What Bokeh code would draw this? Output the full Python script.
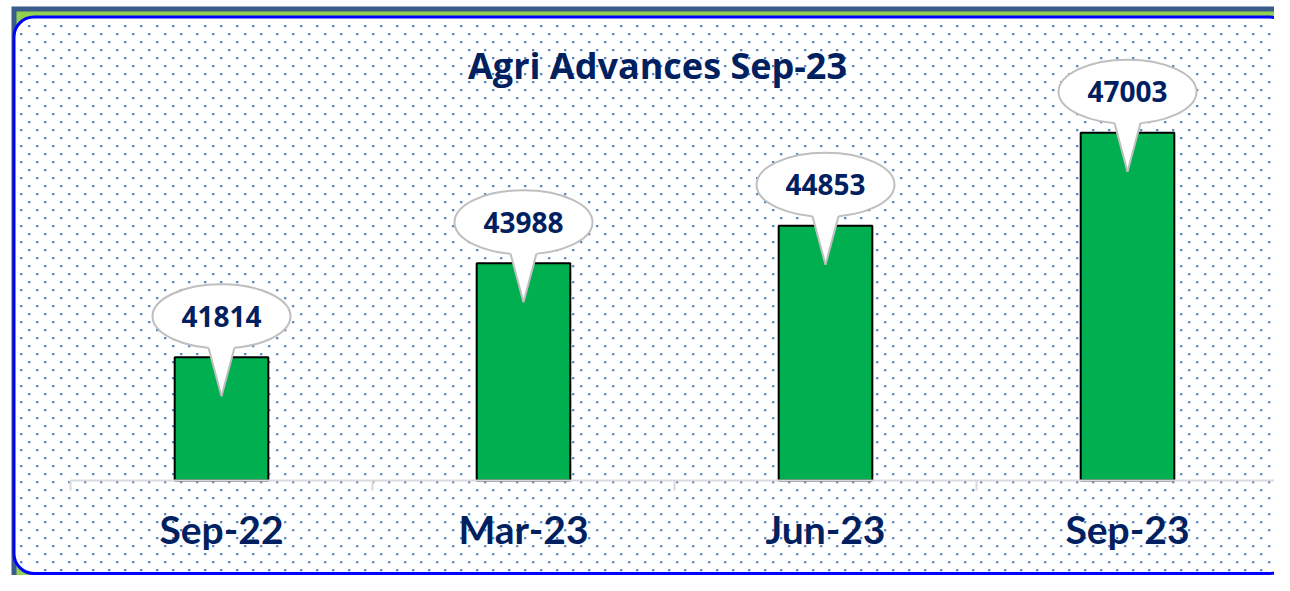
import numpy as np
from bokeh.plotting import figure
from bokeh.models import BoxAnnotation, Label, FixedTicker, LinearAxis, Range1d
from bokeh.embed import file_html
from bokeh.resources import INLINE
from bokeh.core.properties import value

# ---- data ----
categories = ["Sep-22", "Mar-23", "Jun-23", "Sep-23"]
advances = [41814, 43988, 44853, 47003]
title_text = "Agri Advances Sep-23"

# ---- layout (pixel geometry of the card) ----
W, H = 1274, 575
X_LEFT_PX = 70          # left edge of first category slot
SLOT_PX = 302           # width of one category slot
BASE_PX = 480           # baseline (axis) position from top
Y0 = 38970              # axis minimum
PX_PER_UNIT_Y = 0.0433

dx = 1.0 / SLOT_PX
dy = 1.0 / PX_PER_UNIT_Y
XS = -X_LEFT_PX * dx
XE = XS + W * dx
YS = Y0 - (H - BASE_PX) * dy
YE = Y0 + BASE_PX * dy


def px_x(px):
    return XS + np.asarray(px, dtype=float) * dx


def px_y(py):
    return YE - np.asarray(py, dtype=float) * dy


NAVY = "#002060"

p = figure(width=W, height=H, output_backend="svg", toolbar_location=None,
           x_range=Range1d(XS, XE), y_range=Range1d(YS, YE),
           min_border=0, min_border_left=0, min_border_right=0,
           min_border_top=0, min_border_bottom=0,
           x_axis_type=None, y_axis_type=None)
p.outline_line_color = None
p.border_fill_color = "white"
p.background_fill_color = None


def cbox(**kw):
    return BoxAnnotation(left_units="canvas", right_units="canvas",
                         top_units="canvas", bottom_units="canvas",
                         level="underlay", editable=False, **kw)


# ---- decorative frame ----
p.add_layout(cbox(left=11, right=1400, top=6, bottom=700,
                  fill_color="#385D8A", fill_alpha=1, line_color=None))
p.add_layout(cbox(left=16, right=1400, top=11, bottom=700,
                  fill_color="#92D050", fill_alpha=1, line_color=None))
p.add_layout(cbox(left=13.5, right=1289, top=16.5, bottom=573,
                  fill_color="white", fill_alpha=1, line_color="#0000FF",
                  line_width=3, line_alpha=1, border_radius=20))

# dotted texture of the card (decoration)
dot_x, dot_y = [], []
R = 20
for j, yy in enumerate(np.arange(25.7 - 8, 570, 8)):
    if yy < 20:
        continue
    x0 = 4.7 if j % 2 == 0 else 12.7
    for xx in np.arange(x0, W, 16):
        if xx < 17:
            continue
        if xx < 13.5 + R:
            cx = 13.5 + R
            cy = 16.5 + R if yy < 300 else 573 - R
            if (yy < 16.5 + R or yy > 573 - R) and (xx - cx) ** 2 + (yy - cy) ** 2 > (R - 3) ** 2:
                continue
        dot_x.append(xx)
        dot_y.append(yy)
p.scatter(px_x(dot_x), px_y(dot_y), marker="square", size=2.2,
          fill_color="#4F81BD", line_color=None)

# ---- bars ----
xc = np.arange(len(categories)) + 0.5
vals = np.array(advances, dtype=float)
p.vbar(x=xc, top=vals, bottom=Y0, width=0.31, fill_color="#00B050",
       line_color="black", line_width=2)

# ---- callouts ----
ell_y = vals + 41 * dy
EW, EH = 138, 64
p.ellipse(x=xc, y=ell_y, width=EW, height=EH, width_units="screen",
          height_units="screen", fill_color="white", line_color="#BFBFBF",
          line_width=2)
half = 13
by = np.sqrt(1 - (half / (EW / 2)) ** 2) * EH / 2
tip_y = vals - 39 * dy
base_y = ell_y - by * dy
xs_fill = [[x - half * dx, x - half * dx, x, x + half * dx, x + half * dx]
           for x in xc]
ys_fill = [[e - 22 * dy, b, t, b, e - 22 * dy]
           for e, b, t in zip(ell_y, base_y, tip_y)]
p.patches(xs_fill, ys_fill, fill_color="white", line_color=None)
xs_l, ys_l = [], []
for x, b, t in zip(xc, base_y, tip_y):
    xs_l += [[x - half * dx, x], [x + half * dx, x]]
    ys_l += [[b, t], [b, t]]
p.multi_line(xs_l, ys_l, line_color="#BFBFBF", line_width=2)

p.text(x=xc, y=ell_y, text=[str(v) for v in advances], text_align="center",
       text_baseline="middle", text_font=value("Open Sans"),
       text_font_size="28px", text_font_style="bold", text_color=NAVY)

# ---- title ----
p.add_layout(Label(x=657, y=65, x_units="canvas", y_units="canvas",
                   text=title_text, text_align="center", text_baseline="middle",
                   text_font="Open Sans", text_font_size="36px",
                   text_font_style="bold", text_color=NAVY))

# ---- category axis (drawn at the baseline) ----
ax = LinearAxis(ticker=FixedTicker(ticks=list(xc),
                                   minor_ticks=list(range(len(categories) + 1))),
                fixed_location=Y0, bounds=(0, len(categories)),
                major_label_overrides={float(x): c for x, c in zip(xc, categories)},
                axis_line_color="#D9D9D9", axis_line_width=2,
                major_tick_line_color=None, major_tick_in=0, major_tick_out=0,
                minor_tick_line_color="#D9D9D9", minor_tick_line_width=2,
                minor_tick_in=0, minor_tick_out=10,
                major_label_standoff=15,
                major_label_text_font="Lato", major_label_text_font_size="39px",
                major_label_text_font_style="bold",
                major_label_text_color=NAVY)
p.add_layout(ax, "below")

open("out.html", "w").write(file_html(p, INLINE))
